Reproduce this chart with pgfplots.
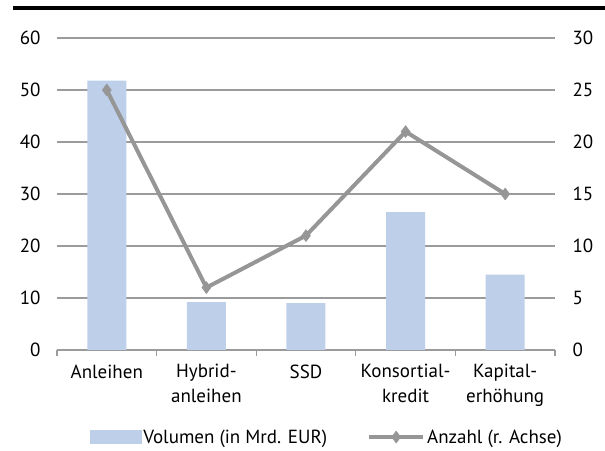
\documentclass[border=0pt]{standalone}
\usepackage{pgfplots}
\pgfplotsset{compat=1.18}
\usepackage{fontspec}
\setmainfont{PT Sans}
\definecolor{barblue}{RGB}{189,207,233}
\definecolor{linegray}{RGB}{150,150,150}
\definecolor{gridgray}{RGB}{155,155,155}

\pgfplotsset{
  labfont/.style={font=\fontsize{19}{24.5}\selectfont},
  linelegend/.style={legend image code/.code={\draw[mark repeat=2, mark phase=2, ##1]
    plot coordinates {(0pt,0pt) (27pt,0pt) (54pt,0pt)};}},
}

\begin{document}
\begin{tikzpicture}[x=1pt,y=1pt]
\path[use as bounding box] (0,0) rectangle (605,450);
\draw[black, line width=4pt] (13,442) -- (605,442);

% Volumen, linke Achse
\begin{axis}[
  at={(57pt,100pt)}, anchor=south west,
  scale only axis, width=498pt, height=312pt,
  xmin=-0.5, xmax=4.5, ymin=0, ymax=60,
  axis lines*=left,
  x axis line style={draw=gridgray, line width=1.2pt, -},
  y axis line style={draw=none},
  ytick={0,10,...,60},
  ymajorgrids,
  grid style={draw=gridgray, line width=1.2pt},
  xtick={0,...,4},
  xticklabels={Anleihen, Hybrid-\\anleihen, SSD, Konsortial-\\kredit, Kapital-\\erhöhung},
  minor xtick={-0.5,0.5,...,4.5},
  tick align=outside,
  major tick length=0pt,
  minor tick length=6pt,
  major x tick style={draw=none},
  minor x tick style={draw=gridgray, line width=1.2pt},
  ytick style={draw=none},
  tick label style={labfont},
  xticklabel style={align=center, yshift=-11pt},
  yticklabel style={xshift=-13pt},
  /pgf/number format/assume math mode=true,
  clip=false,
]
\addplot[ybar, bar width=39pt, fill=barblue, draw=none]
  coordinates {(0,51.8) (1,9.2) (2,9.0) (3,26.5) (4,14.5)};
\end{axis}

% Anzahl, rechte Achse
\begin{axis}[
  at={(57pt,100pt)}, anchor=south west,
  scale only axis, width=498pt, height=312pt,
  xmin=-0.5, xmax=4.5, ymin=0, ymax=30,
  axis x line=none,
  axis y line*=right,
  y axis line style={draw=none},
  ytick={0,5,...,30},
  ytick style={draw=none},
  tick label style={labfont},
  yticklabel style={xshift=14pt},
  /pgf/number format/assume math mode=true,
  legend columns=2,
  legend style={
    at={(0.542,-0.279)}, anchor=center,
    draw=none, fill=none, labfont,
    /tikz/every even column/.append style={column sep=38pt},
  },
  clip=false,
]
\addlegendimage{legend image code/.code={\fill[barblue] (0pt,-6.5pt) rectangle (51pt,6.5pt);}}
\addlegendentry{Volumen (in Mrd. EUR)}
\addplot[linegray, line width=4pt, line join=round,
  mark=diamond*, mark size=6pt,
  mark options={fill=linegray, draw=linegray, line width=0.5pt},
  linelegend]
  coordinates {(0,25) (1,6) (2,11) (3,21) (4,15)};
\addlegendentry{Anzahl (r. Achse)}
\end{axis}
\end{tikzpicture}
\end{document}
